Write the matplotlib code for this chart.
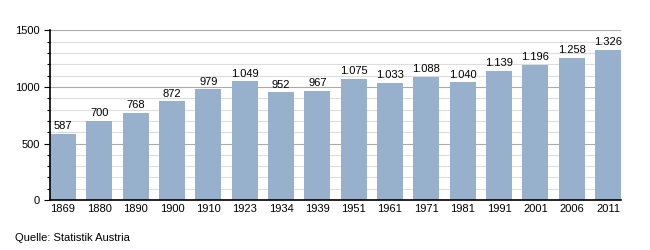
import numpy as np
import matplotlib
matplotlib.use("Agg")
import matplotlib.pyplot as plt
from matplotlib.ticker import MultipleLocator

years = ["1869", "1880", "1890", "1900", "1910", "1923", "1934", "1939",
         "1951", "1961", "1971", "1981", "1991", "2001", "2006", "2011"]
population = [587, 700, 768, 872, 979, 1049, 952, 967,
              1075, 1033, 1088, 1040, 1139, 1196, 1258, 1326]
value_labels = ["587", "700", "768", "872", "979", "1.049", "952", "967",
                "1.075", "1.033", "1.088", "1.040", "1.139", "1.196", "1.258", "1.326"]

plt.rcParams['font.family'] = ['Liberation Sans', 'DejaVu Sans']

fig = plt.figure(figsize=(6.5, 2.5), dpi=100)
ax = fig.add_axes([50 / 650, 50 / 250, 571 / 650, 169.5 / 250])

w = 0.716
x = np.arange(len(years))
ax.bar(x, population, width=w, align='edge', color='#97b0cb', zorder=3)
for xi, v, lab in zip(x, population, value_labels):
    ax.text(xi + w / 2, v + 25, lab, ha='center', va='bottom', fontsize=8, zorder=4)

ax.set_xlim(0, len(years) - 1 + w)
ax.set_ylim(0, 1500)
ax.set_xticks(x + w / 2)
ax.set_xticklabels(years, fontsize=8)
ax.yaxis.set_major_locator(MultipleLocator(500))
ax.yaxis.set_minor_locator(MultipleLocator(100))
ax.tick_params(axis='y', labelsize=8, length=4, width=0.8, direction='out')
ax.tick_params(axis='y', which='minor', length=2.5, width=0.8)
ax.tick_params(axis='x', length=0, pad=3)

ax.grid(axis='y', which='minor', color='#dddddd', linewidth=0.8, zorder=0)
ax.grid(axis='y', which='major', color='#aaaaaa', linewidth=0.8, zorder=1)

ax.spines['top'].set_visible(False)
ax.spines['right'].set_visible(False)
ax.spines['left'].set_linewidth(1.2)
ax.spines['bottom'].set_linewidth(1.2)
ax.spines['left'].set_zorder(5)
ax.spines['bottom'].set_zorder(5)

fig.text(15 / 650, 1 - 238 / 250, "Quelle: Statistik Austria", fontsize=8, va='center')

fig.savefig("out.png", dpi=100)
